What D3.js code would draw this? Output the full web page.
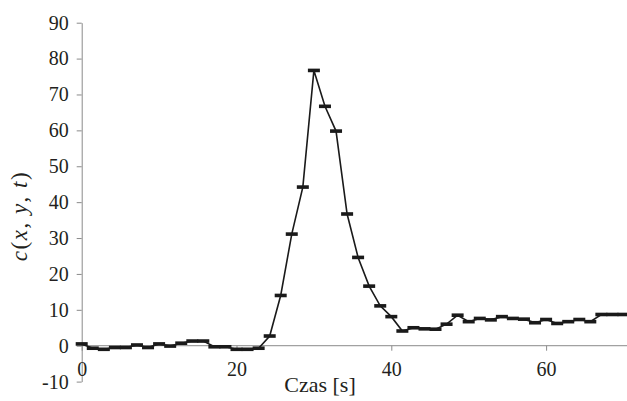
<!DOCTYPE html>
<html lang="pl">
<meta charset="utf-8">
<head>
  <title>c(x, y, t)</title>
  <script src="https://d3js.org/d3.v7.min.js"></script>
  <style>
    body { margin: 0; background: #fff; }
    svg text { font-family: "Liberation Serif", "Times New Roman", Tinos, "DejaVu Serif", "Noto Serif", serif !important; fill: #231f20; }
    .axis path, .axis line { stroke: #8a8a8a; stroke-width: 1; }
  </style>
</head>
<body>
<script>
var width = 627,
    height = 401;

// time of each sample [s]
var times = [0, 1.43, 2.86, 4.29, 5.71, 7.14, 8.57, 10, 11.43, 12.86,
  14.29, 15.71, 17.14, 18.57, 20, 21.43, 22.86, 24.29, 25.71, 27.14,
  28.57, 30, 31.43, 32.86, 34.29, 35.71, 37.14, 38.57, 40, 41.43,
  42.86, 44.29, 45.71, 47.14, 48.57, 50, 51.43, 52.86, 54.29, 55.71,
  57.14, 58.57, 60, 61.43, 62.86, 64.29, 65.71, 67.14, 68.57, 70];

// concentration c(x, y, t)
var values = [0.5, -0.7, -1.0, -0.5, -0.5, 0.2, -0.5, 0.5, -0.1, 0.7,
  1.3, 1.3, -0.3, -0.3, -1.0, -1.0, -0.7, 2.7, 14.0, 31.1,
  44.2, 76.7, 66.7, 59.8, 36.7, 24.6, 16.6, 11.1, 8.1, 4.1,
  5.0, 4.7, 4.6, 6.0, 8.5, 6.7, 7.6, 7.2, 8.1, 7.6,
  7.4, 6.4, 7.3, 6.2, 6.7, 7.3, 6.7, 8.7, 8.7, 8.7];

var xTicks = [0, 20, 40, 60];
var yTicks = [-10, 0, 10, 20, 30, 40, 50, 60, 70, 80, 90];

var data = times.map(function(t, i) { return {t: t, v: values[i]}; });

var svg = d3.select("body").append("svg")
    .attr("width", width)
    .attr("height", height);

var x = d3.scaleLinear().domain([0, 70]).range([81.7, 623.5]);
var y = d3.scaleLinear().domain([-10, 90]).range([381.6, 22.7]);

// plain hyphen for negatives, like the original
var fmt = function(d) { return String(d); };

// y axis
var yAxis = svg.append("g")
    .attr("class", "axis")
    .attr("transform", "translate(" + x(0) + ",0)")
    .call(d3.axisLeft(y).tickValues(yTicks).tickFormat(fmt)
      .tickSizeInner(5).tickSizeOuter(0).tickPadding(8));
yAxis.attr("font-family", null);
yAxis.selectAll("text").style("font-size", "20px");

// x axis sits on c = 0
var xAxis = svg.append("g")
    .attr("class", "axis")
    .attr("transform", "translate(0," + y(0) + ")")
    .call(d3.axisBottom(x).tickValues(xTicks).tickFormat(fmt)
      .tickSizeInner(5).tickSizeOuter(0).tickPadding(11));
xAxis.attr("font-family", null);
xAxis.select(".domain").remove();
xAxis.append("line")
    .attr("x1", x(0)).attr("x2", width)
    .attr("y1", 0).attr("y2", 0)
    .style("stroke", "#8a8a8a");
xAxis.selectAll("text").style("font-size", "20px");

// series line
var line = d3.line()
    .x(function(d) { return x(d.t); })
    .y(function(d) { return y(d.v); });

svg.append("path")
    .datum(data)
    .attr("d", line)
    .style("fill", "none")
    .style("stroke", "#1a1a1a")
    .style("stroke-width", 1.6);

// dash markers
svg.selectAll(".marker")
    .data(data)
    .enter().append("rect")
    .attr("class", "marker")
    .attr("x", function(d) { return x(d.t) - 6; })
    .attr("y", function(d) { return y(d.v) - 1.8; })
    .attr("width", 12)
    .attr("height", 3.6)
    .style("fill", "#1a1a1a");

// axis titles
svg.append("text")
    .attr("x", 320)
    .attr("y", 392)
    .attr("text-anchor", "middle")
    .style("font-size", "22px")
    .text("Czas [s]");

var yl = svg.append("text")
    .attr("transform", "translate(27,216) rotate(-90)")
    .attr("text-anchor", "middle")
    .style("font-size", "23px")
    .style("letter-spacing", "1.5px");
yl.append("tspan").style("font-style", "italic").text("c");
yl.append("tspan").text("(");
yl.append("tspan").style("font-style", "italic").text("x");
yl.append("tspan").text(", ");
yl.append("tspan").style("font-style", "italic").text("y");
yl.append("tspan").text(", ");
yl.append("tspan").style("font-style", "italic").text("t");
yl.append("tspan").text(")");
</script>
</body>
</html>
